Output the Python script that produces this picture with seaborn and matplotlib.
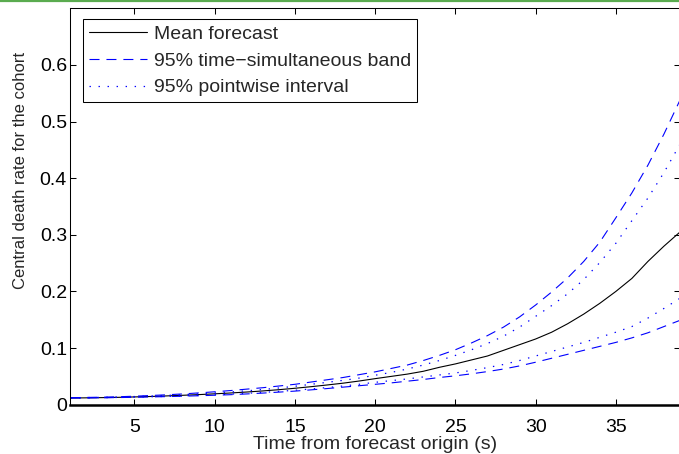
import numpy as np
import pandas as pd
import seaborn as sns
import matplotlib.pyplot as plt

# --- DATA ---
years = list(range(1, 40))

mean_forecast = [0.0118, 0.0121, 0.0125, 0.0130, 0.0137, 0.0145, 0.0155, 0.0166, 0.0178, 0.0192,
                 0.0207, 0.0224, 0.0243, 0.0265, 0.0290, 0.0318, 0.0348, 0.0380, 0.0418, 0.0460,
                 0.0500, 0.0540, 0.0590, 0.0660, 0.0720, 0.0790, 0.0860, 0.0960, 0.1060, 0.1160,
                 0.1280, 0.1430, 0.1600, 0.1790, 0.2000, 0.2230, 0.2530, 0.2800, 0.3050]

sim_upper = [0.0124, 0.0128, 0.0133, 0.0140, 0.0150, 0.0162, 0.0175, 0.0190, 0.0208, 0.0228,
             0.0250, 0.0275, 0.0300, 0.0330, 0.0360, 0.0400, 0.0440, 0.0480, 0.0530, 0.0580,
             0.0640, 0.0700, 0.0780, 0.0870, 0.0970, 0.1090, 0.1220, 0.1370, 0.1550, 0.1760,
             0.1990, 0.2240, 0.2530, 0.2870, 0.3300, 0.3740, 0.4230, 0.4780, 0.5380]

sim_lower = [0.0117, 0.0119, 0.0122, 0.0126, 0.0131, 0.0137, 0.0143, 0.0150, 0.0158, 0.0167,
             0.0177, 0.0190, 0.0205, 0.0222, 0.0240, 0.0262, 0.0285, 0.0310, 0.0335, 0.0360,
             0.0385, 0.0415, 0.0445, 0.0480, 0.0510, 0.0545, 0.0585, 0.0630, 0.0685, 0.0750,
             0.0820, 0.0890, 0.0960, 0.1030, 0.1100, 0.1180, 0.1270, 0.1380, 0.1490]

pw_upper = [0.0122, 0.0126, 0.0130, 0.0136, 0.0144, 0.0153, 0.0164, 0.0177, 0.0191, 0.0207,
            0.0225, 0.0245, 0.0268, 0.0295, 0.0325, 0.0360, 0.0395, 0.0430, 0.0470, 0.0520,
            0.0570, 0.0630, 0.0700, 0.0780, 0.0870, 0.0970, 0.1080, 0.1210, 0.1370, 0.1560,
            0.1750, 0.1960, 0.2210, 0.2510, 0.2850, 0.3250, 0.3650, 0.4100, 0.4600]

pw_lower = [0.0118, 0.0121, 0.0124, 0.0128, 0.0134, 0.0140, 0.0147, 0.0155, 0.0164, 0.0175,
            0.0187, 0.0201, 0.0217, 0.0235, 0.0255, 0.0278, 0.0302, 0.0330, 0.0360, 0.0395,
            0.0425, 0.0455, 0.0490, 0.0525, 0.0560, 0.0605, 0.0655, 0.0710, 0.0780, 0.0860,
            0.0940, 0.1020, 0.1100, 0.1190, 0.1280, 0.1380, 0.1530, 0.1700, 0.1880]

x_ticks = [5, 10, 15, 20, 25, 30, 35]
y_ticks = [0, 0.1, 0.2, 0.3, 0.4, 0.5, 0.6]
y_ticklabels = ["0", "0.1", "0.2", "0.3", "0.4", "0.5", "0.6"]


def main():
    sns.set_style("ticks")
    plt.rcParams['font.family'] = ['Liberation Sans', 'DejaVu Sans']
    plt.rcParams['lines.scale_dashes'] = False

    fig = plt.figure(figsize=(6.79, 4.54), dpi=100)
    ax = fig.add_axes([0.1035, 0.1086, 0.8980, 0.8731])

    dashed = (0, (7.2, 5.0))
    dotted = (0, (1.0, 5.5))

    sns.lineplot(x=years, y=mean_forecast, ax=ax, color='black', lw=0.8,
                 label='Mean forecast')
    sns.lineplot(x=years, y=sim_upper, ax=ax, color='#0000ff', lw=0.8,
                 linestyle=dashed, label='95% time\u2212simultaneous band')
    sns.lineplot(x=years, y=sim_lower, ax=ax, color='#0000ff', lw=0.8,
                 linestyle=dashed)
    sns.lineplot(x=years, y=pw_upper, ax=ax, color='#0000ff', lw=0.9,
                 linestyle=dotted, label='95% pointwise interval')
    sns.lineplot(x=years, y=pw_lower, ax=ax, color='#0000ff', lw=0.9,
                 linestyle=dotted)

    ax.set_xlim(1, 39)
    ax.set_ylim(0, 0.7)
    ax.set_xticks(x_ticks)
    ax.set_yticks(y_ticks)
    ax.set_yticklabels(y_ticklabels)

    # MATLAB-like box with inward ticks on all sides
    for side in ['top', 'right', 'left']:
        ax.spines[side].set_visible(True)
        ax.spines[side].set_linewidth(0.75)
        ax.spines[side].set_color('black')
    ax.spines['bottom'].set_linewidth(1.8)
    ax.spines['bottom'].set_color('black')
    ax.tick_params(axis='both', direction='in', length=4.3, width=0.75,
                   top=True, right=True, labelsize=14, colors='black')
    ax.tick_params(axis='x', pad=10.5)
    ax.tick_params(axis='y', pad=2.4)

    ax.set_xlabel('Time from forecast origin (s)', fontsize=14)
    ax.set_ylabel('Central death rate for the cohort', fontsize=12)
    ax.xaxis.set_label_coords(0.5, -0.080)
    ax.yaxis.set_label_coords(-0.069, 0.59)

    leg = ax.legend(loc='upper left', bbox_to_anchor=(0.0213, 0.972),
                    borderaxespad=0, fontsize=14, frameon=True, fancybox=False,
                    edgecolor='black', framealpha=1, handlelength=3.0,
                    handletextpad=0.35, borderpad=0.3, labelspacing=0.47)
    leg.get_frame().set_linewidth(0.75)

    # thin green rule along the very top of the image
    fig.add_artist(plt.Line2D([0, 1], [1 - 1.3 / 454, 1 - 1.3 / 454],
                              transform=fig.transFigure, color='#5aab4f', lw=1.6))

    fig.savefig('out.png', dpi=100)


if __name__ == "__main__":
    main()
